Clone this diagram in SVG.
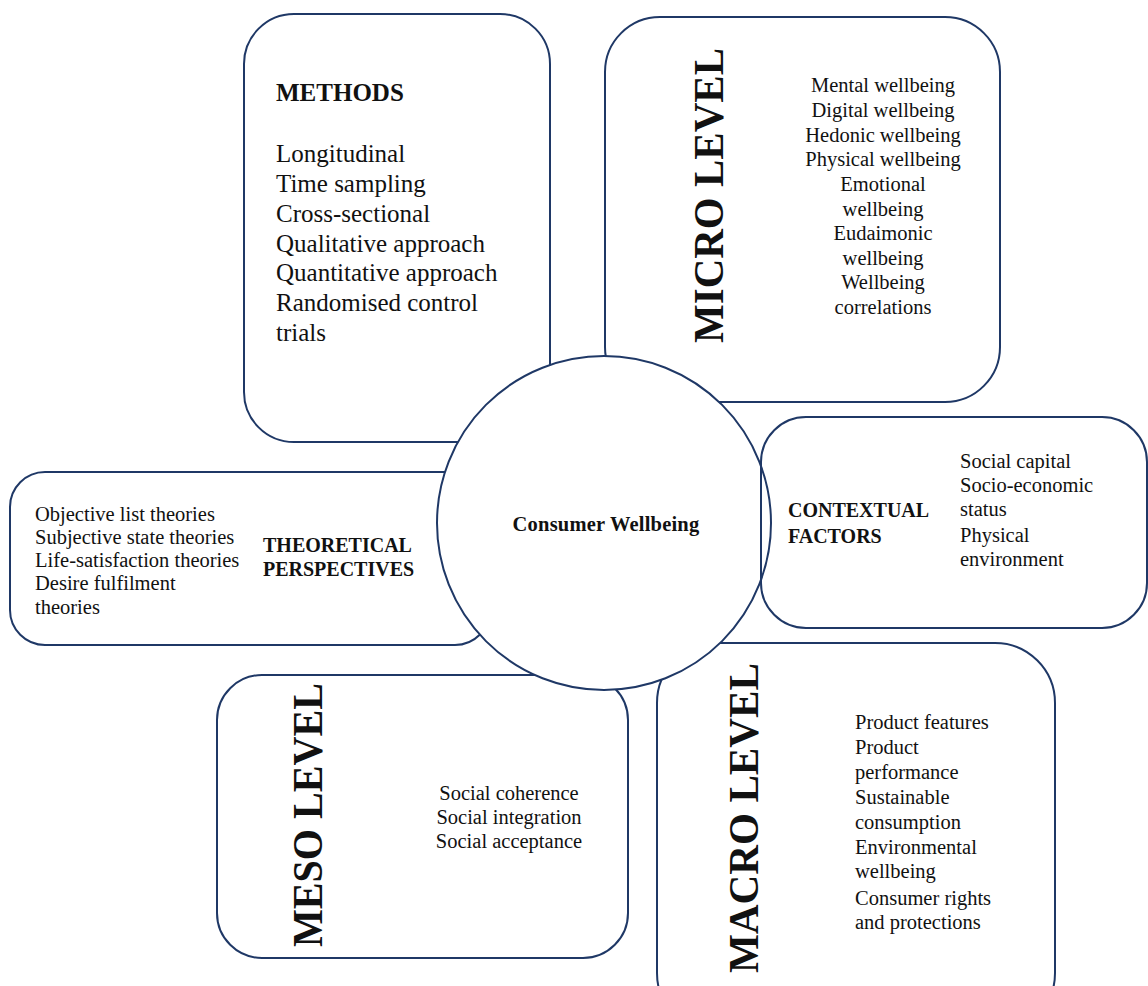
<svg xmlns="http://www.w3.org/2000/svg" width="1148" height="986" viewBox="0 0 1148 986">
<style>
.box{fill:#ffffff;stroke:#1f3866;stroke-width:2}
.open{fill:none;stroke:#1f3866;stroke-width:2}
</style>
<rect width="1148" height="986" fill="#ffffff"/>
<g font-family="'Liberation Serif', 'Times New Roman', serif" fill="#111111">
<g id="methods">
<rect class="box" x="244" y="14" width="306" height="428" rx="50" ry="50"/>
<text x="276" y="101" font-size="25" font-weight="bold">METHODS</text>
<g font-size="25">
<text x="276" y="162">Longitudinal</text>
<text x="276" y="192">Time sampling</text>
<text x="276" y="222">Cross-sectional</text>
<text x="276" y="252">Qualitative approach</text>
<text x="276" y="281">Quantitative approach</text>
<text x="276" y="311">Randomised control</text>
<text x="276" y="341">trials</text>
</g>
</g>
<g id="micro-level">
<rect class="box" x="605" y="17" width="395" height="385" rx="55" ry="55"/>
<text font-size="43" font-weight="bold" text-anchor="middle" textLength="295" lengthAdjust="spacingAndGlyphs" transform="translate(723,195.5) rotate(-90)">MICRO LEVEL</text>
<g font-size="20.5" text-anchor="middle">
<text x="883" y="92">Mental wellbeing</text>
<text x="883" y="117">Digital wellbeing</text>
<text x="883" y="142">Hedonic wellbeing</text>
<text x="883" y="166">Physical wellbeing</text>
<text x="883" y="191">Emotional</text>
<text x="883" y="216">wellbeing</text>
<text x="883" y="240">Eudaimonic</text>
<text x="883" y="265">wellbeing</text>
<text x="883" y="289">Wellbeing</text>
<text x="883" y="314">correlations</text>
</g>
</g>
<g id="theoretical-perspectives">
<rect class="box" x="10" y="472" width="480" height="173" rx="35" ry="35"/>
<g font-size="20.5">
<text x="35" y="521">Objective list theories</text>
<text x="35" y="544">Subjective state theories</text>
<text x="35" y="567">Life-satisfaction theories</text>
<text x="35" y="590">Desire fulfilment</text>
<text x="35" y="614">theories</text>
</g>
<text x="263" y="552" font-size="20" font-weight="bold">THEORETICAL</text>
<text x="263" y="576" font-size="20" font-weight="bold">PERSPECTIVES</text>
</g>
<g id="meso-level">
<rect class="box" x="217" y="675" width="411" height="283" rx="45" ry="45"/>
<text font-size="42" font-weight="bold" text-anchor="middle" textLength="264" lengthAdjust="spacingAndGlyphs" transform="translate(322,815) rotate(-90)">MESO LEVEL</text>
<g font-size="20.5" text-anchor="middle">
<text x="509" y="800">Social coherence</text>
<text x="509" y="824">Social integration</text>
<text x="509" y="848">Social acceptance</text>
</g>
</g>
<g id="macro-level">
<rect class="box" x="657" y="643" width="398" height="390" rx="60" ry="60"/>
<text font-size="43" font-weight="bold" text-anchor="middle" textLength="310" lengthAdjust="spacingAndGlyphs" transform="translate(758,818) rotate(-90)">MACRO LEVEL</text>
<g font-size="20.5">
<text x="855" y="729">Product features</text>
<text x="855" y="754">Product</text>
<text x="855" y="779">performance</text>
<text x="855" y="804">Sustainable</text>
<text x="855" y="829">consumption</text>
<text x="855" y="854">Environmental</text>
<text x="855" y="878">wellbeing</text>
<text x="855" y="905">Consumer rights</text>
<text x="855" y="929">and protections</text>
</g>
</g>
<g id="consumer-wellbeing">
<circle class="box" cx="604" cy="523" r="167"/>
<text x="606" y="531" font-size="20.5" font-weight="bold" text-anchor="middle" letter-spacing="0.2">Consumer Wellbeing</text>
</g>
<g id="contextual-factors">
<rect class="open" x="761" y="417" width="386" height="211" rx="45" ry="45"/>
<text x="788" y="517" font-size="20" font-weight="bold">CONTEXTUAL</text>
<text x="788" y="543" font-size="20" font-weight="bold">FACTORS</text>
<g font-size="20.5">
<text x="960" y="468">Social capital</text>
<text x="960" y="492">Socio-economic</text>
<text x="960" y="516">status</text>
<text x="960" y="542">Physical</text>
<text x="960" y="566">environment</text>
</g>
</g>
</g>
</svg>
